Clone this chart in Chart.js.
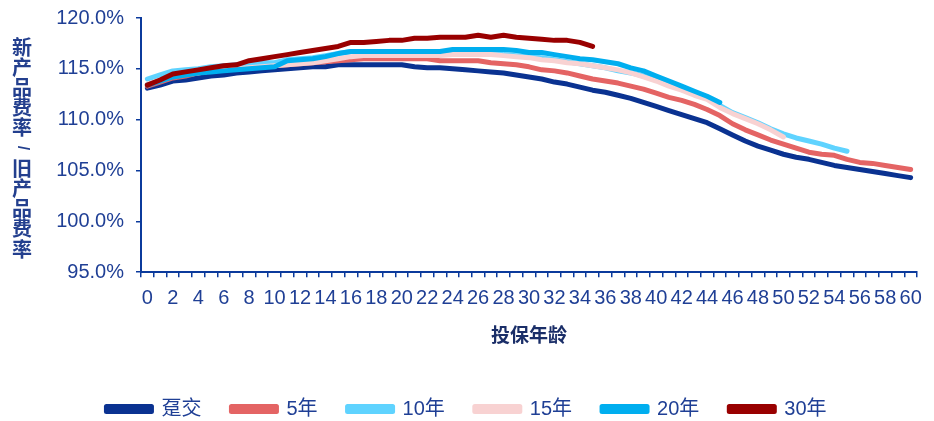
<!DOCTYPE html>
<html>
<head>
<meta charset="utf-8">
<script src="https://cdn.jsdelivr.net/npm/chart.js@4.4.1/dist/chart.umd.min.js"></script>
<style>
  html, body { margin: 0; padding: 0; background: #fff; }
  #wrap { width: 934px; height: 421px; position: relative; }
</style>
</head>
<body>
<div id="wrap"><canvas id="c" width="934" height="421"></canvas></div>
<script>
// Insured age 0..60
const ages = Array.from({length: 61}, (_, i) => String(i));

// Ratio of new premium rate to old premium rate (%), by payment term
const single = [113.1,113.4,113.8,113.9,114.1,114.3,114.4,114.6,114.7,114.8,
  114.9,115.0,115.1,115.2,115.2,115.4,115.4,115.4,115.4,115.4,
  115.4,115.2,115.1,115.1,115.0,114.9,114.8,114.7,114.6,114.4,
  114.2,114.0,113.7,113.5,113.2,112.9,112.7,112.4,112.1,111.7,
  111.3,110.9,110.5,110.1,109.7,109.1,108.5,107.9,107.4,107.0,
  106.6,106.3,106.1,105.8,105.5,105.3,105.1,104.9,104.7,104.5,104.3];
const term5 = [113.3,113.7,114.1,114.3,114.6,114.8,114.9,115.0,115.1,115.2,
  115.3,115.4,115.5,115.6,115.7,115.8,115.9,116.0,116.0,116.0,
  116.0,116.0,116.0,115.8,115.8,115.8,115.8,115.6,115.5,115.4,
  115.2,114.9,114.8,114.6,114.3,114.0,113.8,113.6,113.3,113.0,
  112.6,112.2,111.9,111.5,111.0,110.4,109.6,109.0,108.5,108.0,
  107.6,107.2,106.8,106.6,106.5,106.1,105.8,105.7,105.5,105.3,105.1];
const term10 = [114.0,114.4,114.8,114.9,115.0,115.2,115.3,115.4,115.5,115.6,
  115.6,115.9,116.0,116.1,116.3,116.5,116.7,116.7,116.7,116.7,
  116.7,116.7,116.7,116.7,116.7,116.7,116.7,116.6,116.4,116.3,
  116.2,116.1,115.9,115.7,115.5,115.3,115.1,114.8,114.6,114.3,
  113.9,113.5,113.1,112.6,112.1,111.4,110.7,110.2,109.7,109.1,
  108.6,108.2,107.9,107.6,107.2,106.9];
const term15 = [113.5,113.9,114.3,114.5,114.7,114.8,114.9,115.0,115.1,115.2,
  115.3,115.4,115.5,115.6,115.8,116.0,116.2,116.3,116.3,116.3,
  116.3,116.3,116.3,116.3,116.4,116.4,116.4,116.4,116.3,116.2,
  116.1,115.9,115.8,115.6,115.5,115.3,115.1,114.9,114.6,114.2,
  113.8,113.3,112.9,112.4,112.0,111.2,110.6,110.1,109.6,109.0,108.3];
const term20 = [113.4,113.8,114.2,114.4,114.6,114.7,114.8,114.9,115.0,115.1,
  115.2,115.8,115.9,116.0,116.2,116.5,116.7,116.7,116.7,116.7,
  116.7,116.7,116.7,116.7,116.9,116.9,116.9,116.9,116.9,116.8,
  116.6,116.6,116.4,116.2,116.0,115.9,115.7,115.5,115.1,114.8,
  114.3,113.8,113.3,112.8,112.3,111.7];
const term30 = [113.4,113.9,114.5,114.7,114.9,115.1,115.3,115.4,115.8,116.0,
  116.2,116.4,116.6,116.8,117.0,117.2,117.6,117.6,117.7,117.8,
  117.8,118.0,118.0,118.1,118.1,118.1,118.3,118.1,118.3,118.1,
  118.0,117.9,117.8,117.8,117.6,117.2];

const seriesNames = ['趸交', '5年', '10年', '15年', '20年', '30年'];
const seriesData = [single, term5, term10, term15, term20, term30];
const seriesColors = ['#0A3291', '#E46464', '#5FD3FF', '#F8D2D2', '#00AEEF', '#990000'];

// Y axis ticks
const yMin = 95, yMax = 120, yStep = 5;

const yTitle = ['新','产','品','费','率','/','旧','产','品','费','率'];
const xTitle = '投保年龄';

const navy = '#1F3F95';
const axisColor = '#0B3A9C';
const fontFamily = "'Liberation Sans', Arial, 'Noto Sans CJK SC', sans-serif";
const cjkFamily = "'Noto Sans CJK SC', 'Liberation Sans', sans-serif";

// Vertical, upright-character y axis title
const stackedTitle = {
  id: 'stackedTitle',
  afterDraw(chart) {
    const ctx = chart.ctx;
    ctx.save();
    ctx.fillStyle = '#233F8E';
    ctx.font = 'bold 20px ' + cjkFamily;
    ctx.textAlign = 'center';
    ctx.textBaseline = 'middle';
    const x = 22, y0 = 47, step = 20.2;
    yTitle.forEach((ch, i) => {
      const y = y0 + i * step;
      if (ch === '/') {
        ctx.save();
        ctx.translate(x, y);
        ctx.rotate(Math.PI / 2);
        ctx.font = 'bold 16px ' + fontFamily;
        ctx.fillText(ch, 0, 0);
        ctx.restore();
      } else {
        ctx.fillText(ch, x, y);
      }
    });
    ctx.restore();
  }
};

const datasets = seriesNames.map((name, i) => ({
  label: name,
  data: seriesData[i],
  borderColor: seriesColors[i],
  backgroundColor: seriesColors[i],
  borderWidth: 5,
  pointRadius: 0,
  pointHoverRadius: 0,
  tension: 0,
  fill: false,
  borderCapStyle: 'round',
  borderJoinStyle: 'round',
  order: seriesNames.length - i
}));

new Chart(document.getElementById('c'), {
  type: 'line',
  data: { labels: ages, datasets },
  options: {
    responsive: false,
    animation: false,
    layout: { padding: { top: 18, right: 17, left: 16, bottom: -8 } },
    plugins: {
      tooltip: { enabled: false },
      legend: {
        position: 'bottom',
        reverse: true,
        labels: {
          boxWidth: 45,
          boxHeight: 5,
          padding: 30,
          color: navy,
          font: { family: fontFamily, size: 20 }
        }
      }
    },
    scales: {
      x: {
        type: 'category',
        offset: true,
        grid: {
          offset: true,
          drawOnChartArea: false,
          drawTicks: true,
          tickLength: 5,
          color: axisColor,
          lineWidth: 1.5
        },
        border: { color: axisColor, width: 2 },
        ticks: {
          autoSkip: false,
          maxRotation: 0,
          minRotation: 0,
          padding: 9,
          color: navy,
          font: { family: fontFamily, size: 20 },
          callback: (v, i) => (i % 2 === 0 ? ages[i] : '')
        },
        title: {
          display: true,
          text: xTitle,
          color: '#1A2E68',
          font: { family: cjkFamily, size: 19, weight: 'bold' },
          padding: { top: 4, bottom: 23 }
        }
      },
      y: {
        min: yMin,
        max: yMax,
        grid: {
          drawOnChartArea: false,
          drawTicks: true,
          tickLength: 5,
          color: axisColor,
          lineWidth: 1.5
        },
        border: { color: axisColor, width: 2 },
        ticks: {
          stepSize: yStep,
          padding: 12,
          color: navy,
          font: { family: fontFamily, size: 20 },
          callback: (v) => Number(v).toFixed(1) + '%'
        },
        afterFit: (s) => { s.width = 125; s.paddingTop = 0; s.paddingBottom = 0; }
      }
    }
  },
  plugins: [stackedTitle]
});
</script>
</body>
</html>
